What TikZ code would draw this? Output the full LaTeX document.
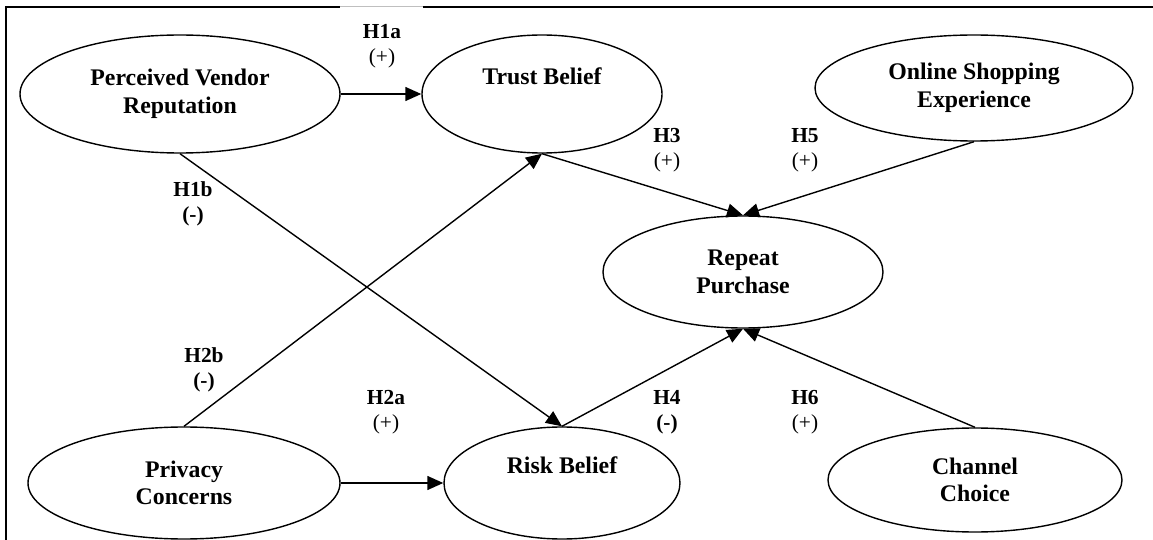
\documentclass[tikz,border=0pt]{standalone}
\usepackage{fontspec}
\setmainfont{Liberation Serif}
\usetikzlibrary{shapes,arrows.meta}

\begin{document}
\begin{tikzpicture}[x=0.5pt,y=-0.5pt,
    construct/.style={draw,ellipse,line width=0.7pt,inner sep=0pt,align=center,
        font=\bfseries\fontsize{11.9}{13.8}\selectfont},
    hlab/.style={align=center,inner sep=0pt,font=\fontsize{10.7}{12.5}\selectfont},
    path/.style={line width=0.7pt,-{Triangle[length=8pt,width=7pt]}}]
    \useasboundingbox (0,0) rectangle (1153,540);

    % frame
    \draw [line width=0.9pt] (5,7) -- (340,7);
    \draw [line width=0.5pt,gray!50] (340,7) -- (423,7);
    \draw [line width=0.9pt] (423,7) -- (1153,7);
    \draw [line width=0.9pt] (6,7) -- (6,540);

    % constructs
    \node[construct,minimum width=160pt,minimum height=59pt] (reputation) at (180,94) {Perceived Vendor\\Reputation};
    \node[construct,minimum width=120pt,minimum height=59pt] (trust) at (542,94) {Trust Belief\\\strut};
    \node[construct,minimum width=159pt,minimum height=53pt] (experience) at (974,88) {Online Shopping\\Experience};
    \node[construct,minimum width=140pt,minimum height=56pt] (repeat) at (743,272) {Repeat\\Purchase};
    \node[construct,minimum width=156pt,minimum height=56pt] (privacy) at (184,483) {Privacy\\Concerns};
    \node[construct,minimum width=118pt,minimum height=56pt] (risk) at (562,483) {Risk Belief\\\strut};
    \node[construct,minimum width=147pt,minimum height=52pt] (channel) at (975,480) {Channel\\Choice};

    % hypotheses
    \draw[path] (reputation.east) -- (trust.west);
    \draw[path] (reputation.south) -- (risk.north);
    \draw[path] (privacy.north) -- (trust.south);
    \draw[path] (privacy.east) -- (risk.west);
    \draw[path] (trust.south) -- (repeat.north);
    \draw[path] (experience.south) -- (repeat.north);
    \draw[path] (risk.north) -- (repeat.south);
    \draw[path] (channel.north) -- (repeat.south);

    % labels
    \node[hlab] (h1a) at (382,46) {\textbf{H1a}\\(+)};
    \node[hlab] (h1b) at (193,204) {\textbf{H1b}\\\textbf{(-)}};
    \node[hlab] (h2b) at (204,370) {\textbf{H2b}\\\textbf{(-)}};
    \node[hlab] (h2a) at (386,412) {\textbf{H2a}\\(+)};
    \node[hlab] (h3) at (667,150) {\textbf{H3}\\(+)};
    \node[hlab] (h5) at (805,150) {\textbf{H5}\\(+)};
    \node[hlab] (h4) at (667,412) {\textbf{H4}\\\textbf{(-)}};
    \node[hlab] (h6) at (805,412) {\textbf{H6}\\(+)};
\end{tikzpicture}
\end{document}
